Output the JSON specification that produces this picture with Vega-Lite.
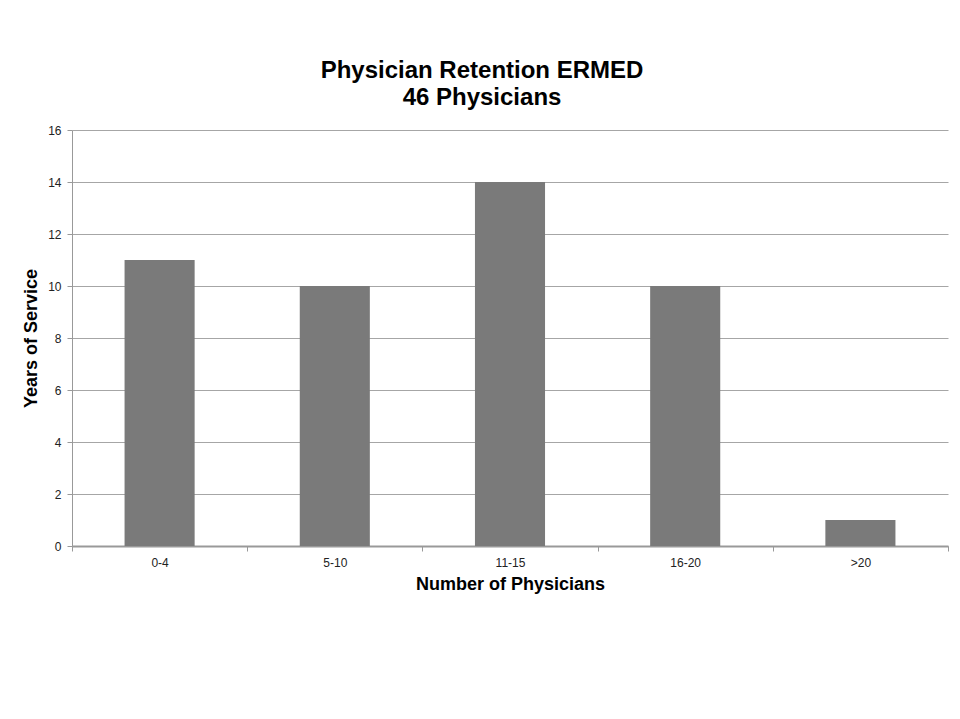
{
  "$schema": "https://vega.github.io/schema/vega-lite/v6.json",
  "autosize": {"type": "none"},
  "width": 876,
  "height": 416,
  "padding": {"left": 72, "top": 130, "right": 12, "bottom": 173},
  "background": "white",
  "title": {
    "text": ["Physician Retention ERMED", "46 Physicians"],
    "font": "Liberation Sans",
    "fontSize": 24,
    "fontWeight": "bold",
    "color": "black",
    "anchor": "middle",
    "lineHeight": 27,
    "dx": -28,
    "offset": 14
  },
  "data": {
    "values": [
      {"range": "0-4", "value": 11},
      {"range": "5-10", "value": 10},
      {"range": "11-15", "value": 14},
      {"range": "16-20", "value": 10},
      {"range": ">20", "value": 1}
    ]
  },
  "mark": {"type": "bar", "color": "#7a7a7a", "width": {"band": 0.4}},
  "encoding": {
    "x": {
      "field": "range",
      "type": "nominal",
      "sort": null,
      "scale": {"paddingInner": 0, "paddingOuter": 0},
      "axis": {
        "title": "Number of Physicians",
        "labelAngle": 0,
        "tickBand": "extent",
        "tickSize": 5,
        "tickColor": "#999999",
        "domainColor": "#999999",
        "domainWidth": 2,
        "labelFont": "Liberation Sans",
        "labelFontSize": 12,
        "labelColor": "#222222",
        "labelPadding": 6,
        "titleFont": "Liberation Sans",
        "titleFontSize": 18,
        "titleFontWeight": "bold",
        "titleColor": "black",
        "titlePadding": 7
      }
    },
    "y": {
      "field": "value",
      "type": "quantitative",
      "scale": {"domain": [0, 16]},
      "axis": {
        "title": "Years of Service",
        "values": [0, 2, 4, 6, 8, 10, 12, 14, 16],
        "tickSize": 5,
        "tickColor": "#999999",
        "domainColor": "#999999",
        "gridColor": "#a6a6a6",
        "gridWidth": 1,
        "labelFont": "Liberation Sans",
        "labelFontSize": 12,
        "labelColor": "#222222",
        "labelPadding": 6,
        "titleFont": "Liberation Sans",
        "titleFontSize": 18,
        "titleFontWeight": "bold",
        "titleColor": "black",
        "titlePadding": 7
      }
    }
  },
  "config": {
    "view": {"stroke": null},
    "axisX": {"grid": false}
  }
}
